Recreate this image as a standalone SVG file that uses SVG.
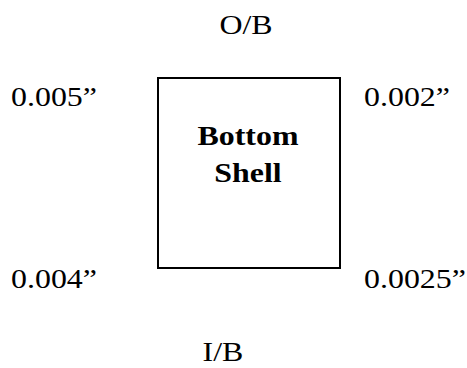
<svg xmlns="http://www.w3.org/2000/svg" width="467" height="368" viewBox="0 0 467 368">
<style>
.t{font-family:"Liberation Serif","Times New Roman",serif;font-size:28px;fill:#000}
.m{text-anchor:middle}
.b{font-weight:bold}
.box{fill:#fff;stroke:#000;stroke-width:2}
</style>
<rect width="467" height="368" fill="#fff"/>
<g id="shell">
<rect class="box" x="158" y="78" width="182" height="190"/>
<text class="t b m" transform="translate(248,145) scale(1.14,1)">Bottom</text>
<text class="t b m" transform="translate(248,182) scale(1.14,1)">Shell</text>
</g>
<g id="labels">
<text class="t m" transform="translate(246,34) scale(1.14,1)">O/B</text>
<text class="t m" transform="translate(223,361) scale(1.14,1)">I/B</text>
<text class="t" transform="translate(11,106) scale(1.14,1)">0.005”</text>
<text class="t" transform="translate(364,106) scale(1.14,1)">0.002”</text>
<text class="t" transform="translate(11,288) scale(1.14,1)">0.004”</text>
<text class="t" transform="translate(364,288) scale(1.14,1)">0.0025”</text>
</g>
</svg>
